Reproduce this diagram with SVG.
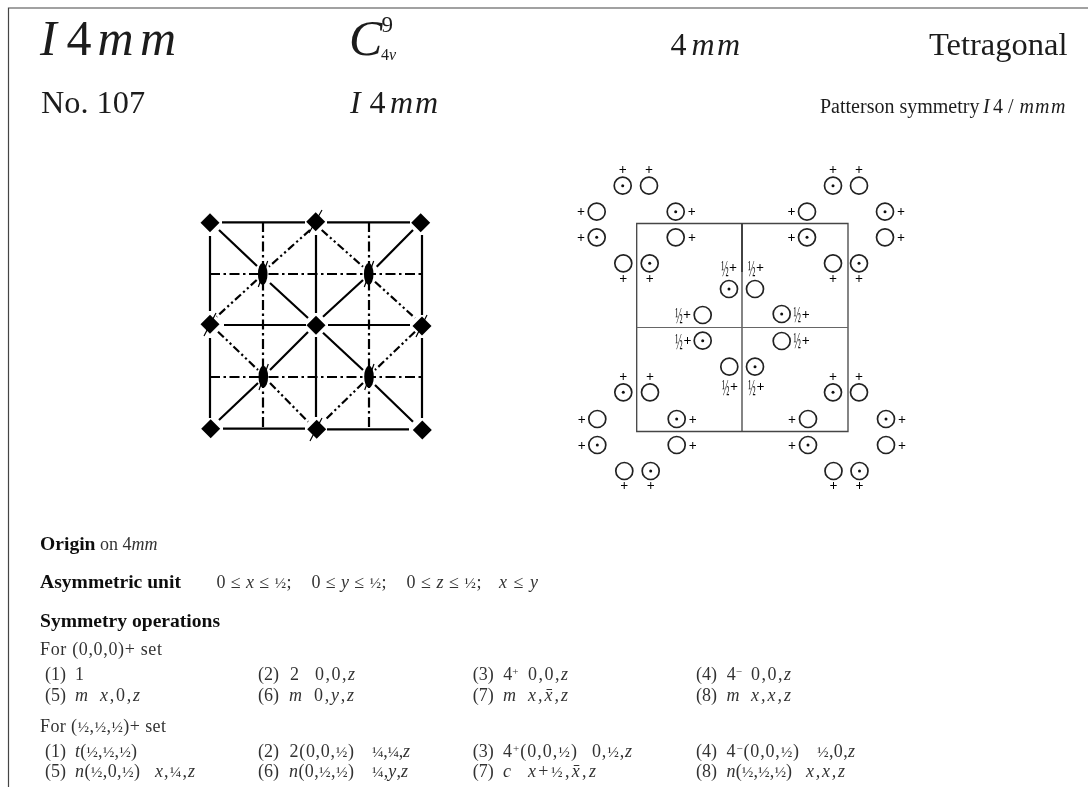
<svg xmlns="http://www.w3.org/2000/svg" width="1088" height="787" viewBox="0 0 1088 787">
<style>
text{font-family:"Liberation Serif","Times New Roman",serif;fill:#1c1c1c}
.r{font-size:18px;fill:#333}
.b{font-size:19.6px;font-weight:bold;fill:#111}
.i{font-style:italic}
.f{font-size:15.5px}
.s{font-size:11px}
.p{font-size:14px;text-anchor:middle;fill:#000;font-weight:bold}
.h{font-size:18px;text-anchor:middle;fill:#111}
.sol,.dd,.ddd{stroke:#000;stroke-width:2.2;fill:none}
.dd{stroke-dasharray:10 3.5 2.5 3.5}
.ddd{stroke-dasharray:8 3 2.2 3 2.2 3}
.tk{stroke:#000;stroke-width:1.2;fill:none}
.c{fill:none;stroke:#222;stroke-width:1.7}
.bx{fill:none;stroke:#444;stroke-width:1.3}
</style>
<defs>
<filter id="soft" x="0" y="0" width="100%" height="100%"><feGaussianBlur stdDeviation="0.4"/></filter>
<path id="dm" d="M0-9.5L9.5 0 0 9.5-9.5 0Z" fill="#000"/>
<circle id="o" r="8.5" class="c"/>
<g id="d"><circle r="8.5" class="c"/><circle r="1.5" fill="#111"/></g>
</defs>
<g filter="url(#soft)">
<rect width="1088" height="787" fill="#fff"/>
<path id="frame" d="M8.5 787V8H1088" fill="none" stroke="#444" stroke-width="1.2"/>

<g id="header">
<text y="55" font-size="50"><tspan class="i" x="40">I</tspan><tspan x="66.5">4</tspan><tspan class="i" x="97.5">m</tspan><tspan class="i" x="140">m</tspan></text>
<text x="349" y="55" font-size="50" class="i">C</text>
<text x="381.5" y="32" font-size="23">9</text>
<text x="381" y="60" font-size="16">4<tspan class="i">v</tspan></text>
<text y="55" font-size="32"><tspan x="670.5">4</tspan><tspan class="i" x="691.5">m</tspan><tspan class="i" x="717">m</tspan></text>
<text x="929" y="55" font-size="32.5">Tetragonal</text>
<text x="41" y="113" font-size="32.3">No. 107</text>
<text y="113" font-size="32"><tspan class="i" x="350">I</tspan><tspan x="369.5">4</tspan><tspan class="i" x="390">m</tspan><tspan class="i" x="415">m</tspan></text>
<text y="113" font-size="20"><tspan x="820">Patterson symmetry</tspan><tspan class="i" x="983">I</tspan><tspan x="993">4</tspan><tspan x="1008">/</tspan><tspan class="i" x="1019.5">m</tspan><tspan class="i" x="1035">m</tspan><tspan class="i" x="1051">m</tspan></text>
</g>

<g id="connectors-left">
<path class="sol" d="M222 222.3H305M327 222.3H410M210 236V311M210 338V418M422 235V315M422 338V418M316 235V313M316 337V417M224 325H306M328 325H410M223 428.7H305M327 429.3H409"/>
<path class="dd" d="M263 222V429M369 222V429M210 274H422M210 377H422"/>
<path class="sol" d="M219 230L257 266M270 283L308 318M413 230L376.7 266.7M363 280L323 316.7M308 332L270 370M258 383L219 420M323 332.7L363 370M375 385L413 421.7"/>
<path class="ddd" d="M310 230L269 266.7M256.7 280L216.7 316.7M321.7 230L363 266.7M375 281.7L415 318M218 331.7L258 370M270 383L308 421.7M415 331.7L375 370M363 383L325 420"/>
<path class="tk" d="M322 210L309 233M427 315L416 337M216 313L204 336M322 418L310 441"/>
<path class="tk" d="M267.7 261L258.3 287M373.7 261L364.3 287M268.3 364L259 390M374 364L364.7 390"/>
</g>
<g id="nodes-left">
<use id="n1" href="#dm" x="210" y="222.7"/>
<use id="n2" href="#dm" x="315.7" y="221.7"/>
<use id="n3" href="#dm" x="420.7" y="222.7"/>
<use id="n4" href="#dm" x="210" y="324.3"/>
<use id="n5" href="#dm" x="316" y="325.3"/>
<use id="n6" href="#dm" x="422" y="326"/>
<use id="n7" href="#dm" x="210.7" y="428.7"/>
<use id="n8" href="#dm" x="316.7" y="429.3"/>
<use id="n9" href="#dm" x="422.3" y="430"/>
<ellipse id="e1" cx="262.7" cy="274" rx="4.8" ry="11" fill="#000"/>
<ellipse id="e2" cx="368.7" cy="274" rx="4.8" ry="11" fill="#000"/>
<ellipse id="e3" cx="263.3" cy="376.7" rx="4.8" ry="11" fill="#000"/>
<ellipse id="e4" cx="369" cy="376.7" rx="4.8" ry="11" fill="#000"/>
</g>

<g id="cell-right">
<path class="bx" d="M636.7 223.5H848V431.5H636.7ZM742 223.5V431.5"/>
<path d="M636.7 327.5H848" stroke="#666" stroke-width="1" fill="none"/>
<path d="M742 223.5V272" stroke="#333" stroke-width="1.6" fill="none"/>
</g>
<g id="circles-right">
<use href="#d" x="622.7" y="185.7"/><use href="#o" x="649" y="185.7"/>
<use href="#o" x="596.7" y="211.7"/><use href="#d" x="675.7" y="211.7"/>
<use href="#d" x="596.7" y="237.3"/><use href="#o" x="675.7" y="237.3"/>
<use href="#o" x="623.3" y="263.3"/><use href="#d" x="649.7" y="263.3"/>
<use href="#d" x="833" y="185.7"/><use href="#o" x="859" y="185.7"/>
<use href="#o" x="807" y="211.7"/><use href="#d" x="885" y="211.7"/>
<use href="#d" x="807" y="237.3"/><use href="#o" x="885" y="237.3"/>
<use href="#o" x="833" y="263.3"/><use href="#d" x="859" y="263.3"/>
<use href="#d" x="729" y="289"/><use href="#o" x="755" y="289"/>
<use href="#o" x="702.7" y="315"/><use href="#d" x="781.7" y="314"/>
<use href="#d" x="702.7" y="340.7"/><use href="#o" x="781.7" y="341"/>
<use href="#o" x="729.3" y="366.7"/><use href="#d" x="755" y="366.7"/>
<use href="#d" x="623.3" y="392.3"/><use href="#o" x="650" y="392.3"/>
<use href="#o" x="597.3" y="419"/><use href="#d" x="676.7" y="419"/>
<use href="#d" x="597.3" y="445"/><use href="#o" x="676.7" y="445"/>
<use href="#o" x="624.3" y="471"/><use href="#d" x="650.7" y="471"/>
<use href="#d" x="833" y="392.3"/><use href="#o" x="859" y="392.3"/>
<use href="#o" x="808" y="419"/><use href="#d" x="886" y="419"/>
<use href="#d" x="808" y="445"/><use href="#o" x="886" y="445"/>
<use href="#o" x="833.5" y="471"/><use href="#d" x="859.5" y="471"/>
</g>
<g id="plus-right">
<text class="p" x="622.7" y="174">+</text><text class="p" x="649" y="174">+</text>
<text class="p" x="581" y="216">+</text><text class="p" x="691.7" y="216">+</text>
<text class="p" x="581" y="241.5">+</text><text class="p" x="692" y="241.5">+</text>
<text class="p" x="623.3" y="282.5">+</text><text class="p" x="649.7" y="282.5">+</text>
<text class="p" x="833" y="174">+</text><text class="p" x="859" y="174">+</text>
<text class="p" x="791.5" y="216">+</text><text class="p" x="901" y="216">+</text>
<text class="p" x="791.5" y="241.5">+</text><text class="p" x="901" y="241.5">+</text>
<text class="p" x="833" y="282.5">+</text><text class="p" x="859" y="282.5">+</text>
<text class="p" x="623.3" y="381">+</text><text class="p" x="650" y="381">+</text>
<text class="p" x="581.7" y="423.5">+</text><text class="p" x="692.7" y="423.5">+</text>
<text class="p" x="581.7" y="449.5">+</text><text class="p" x="692.7" y="449.5">+</text>
<text class="p" x="624.3" y="490">+</text><text class="p" x="650.7" y="490">+</text>
<text class="p" x="833" y="381">+</text><text class="p" x="859" y="381">+</text>
<text class="p" x="792" y="423.5">+</text><text class="p" x="902" y="423.5">+</text>
<text class="p" x="792" y="449.5">+</text><text class="p" x="902" y="449.5">+</text>
<text class="p" x="833.5" y="490">+</text><text class="p" x="859.5" y="490">+</text>
<text class="p" x="733" y="271.5">+</text><text class="p" x="760" y="271.5">+</text>
<text class="p" x="687" y="318.5">+</text><text class="p" x="805.7" y="318.5">+</text>
<text class="p" x="687.5" y="344.5">+</text><text class="p" x="805.7" y="344.5">+</text>
<text class="p" x="734" y="391">+</text><text class="p" x="760.5" y="391">+</text>
</g>
<g id="halves-right">
<text class="h" transform="translate(725 276) scale(.55 1.3)">½</text>
<text class="h" transform="translate(751.7 276) scale(.55 1.3)">½</text>
<text class="h" transform="translate(679 323) scale(.55 1.3)">½</text>
<text class="h" transform="translate(797.3 322) scale(.55 1.3)">½</text>
<text class="h" transform="translate(679 348.5) scale(.55 1.3)">½</text>
<text class="h" transform="translate(797.3 348) scale(.55 1.3)">½</text>
<text class="h" transform="translate(725.7 395) scale(.55 1.3)">½</text>
<text class="h" transform="translate(752 395) scale(.55 1.3)">½</text>
</g>

<g id="text-body">
<text class="b" x="40" y="550">Origin</text>
<text class="r" x="100" y="550">on 4<tspan class="i">mm</tspan></text>
<text class="b" x="40" y="588">Asymmetric unit</text>
<text class="r" x="216.5" y="588" textLength="75">0 ≤ <tspan class="i">x</tspan> ≤ <tspan class="f">½</tspan>;</text>
<text class="r" x="311.5" y="588" textLength="75">0 ≤ <tspan class="i">y</tspan> ≤ <tspan class="f">½</tspan>;</text>
<text class="r" x="406.5" y="588" textLength="75">0 ≤ <tspan class="i">z</tspan> ≤ <tspan class="f">½</tspan>;</text>
<text class="r" x="499" y="588" textLength="39"><tspan class="i">x</tspan> ≤ <tspan class="i">y</tspan></text>
<text class="b" x="40" y="627">Symmetry operations</text>
<text class="r" x="40" y="655" textLength="122">For (0,0,0)+ set</text>

<text class="r" x="45" y="680">(1)</text><text class="r" x="75" y="680">1</text>
<text class="r" x="258" y="680">(2)</text><text class="r" x="290" y="680">2</text><text class="r" x="315" y="680" textLength="40">0,0,<tspan class="i">z</tspan></text>
<text class="r" x="472.7" y="680">(3)</text><text class="r" x="503.3" y="680">4<tspan class="s" dy="-5">+</tspan></text><text class="r" x="528" y="680" textLength="40">0,0,<tspan class="i">z</tspan></text>
<text class="r" x="696" y="680">(4)</text><text class="r" x="726.7" y="680">4<tspan class="s" dy="-5">−</tspan></text><text class="r" x="751" y="680" textLength="40">0,0,<tspan class="i">z</tspan></text>

<text class="r" x="45" y="700.5">(5)</text><text class="r i" x="75" y="700.5">m</text><text class="r" x="100" y="700.5" textLength="40"><tspan class="i">x</tspan>,0,<tspan class="i">z</tspan></text>
<text class="r" x="258" y="700.5">(6)</text><text class="r i" x="289" y="700.5">m</text><text class="r" x="314" y="700.5" textLength="40">0,<tspan class="i">y</tspan>,<tspan class="i">z</tspan></text>
<text class="r" x="472.7" y="700.5">(7)</text><text class="r i" x="503" y="700.5">m</text><text class="r i" x="528" y="700.5" textLength="40">x,x̄,z</text>
<text class="r" x="696" y="700.5">(8)</text><text class="r i" x="726.6" y="700.5">m</text><text class="r i" x="751" y="700.5" textLength="40">x,x,z</text>

<text class="r" x="40" y="731.7" textLength="126">For (<tspan class="f">½</tspan>,<tspan class="f">½</tspan>,<tspan class="f">½</tspan>)+ set</text>

<text class="r" x="45" y="756.5">(1)</text><text class="r" x="75" y="756.5" textLength="62"><tspan class="i">t</tspan>(<tspan class="f">½</tspan>,<tspan class="f">½</tspan>,<tspan class="f">½</tspan>)</text>
<text class="r" x="258" y="756.5">(2)</text><text class="r" x="289.5" y="756.5" textLength="64.5">2(0,0,<tspan class="f">½</tspan>)</text><text class="r" x="372" y="756.5" textLength="38"><tspan class="f">¼</tspan>,<tspan class="f">¼</tspan>,<tspan class="i">z</tspan></text>
<text class="r" x="472.7" y="756.5">(3)</text><text class="r" x="503" y="756.5" textLength="74">4<tspan class="s" dy="-5">+</tspan><tspan dy="5">(0,0,</tspan><tspan class="f">½</tspan>)</text><text class="r" x="592" y="756.5" textLength="40">0,<tspan class="f">½</tspan>,<tspan class="i">z</tspan></text>
<text class="r" x="696" y="756.5">(4)</text><text class="r" x="726.6" y="756.5" textLength="72.5">4<tspan class="s" dy="-5">−</tspan><tspan dy="5">(0,0,</tspan><tspan class="f">½</tspan>)</text><text class="r" x="817" y="756.5" textLength="38"><tspan class="f">½</tspan>,0,<tspan class="i">z</tspan></text>

<text class="r" x="45" y="776.5">(5)</text><text class="r" x="75" y="776.5" textLength="65"><tspan class="i">n</tspan>(<tspan class="f">½</tspan>,0,<tspan class="f">½</tspan>)</text><text class="r" x="155" y="776.5" textLength="40"><tspan class="i">x</tspan>,<tspan class="f">¼</tspan>,<tspan class="i">z</tspan></text>
<text class="r" x="258" y="776.5">(6)</text><text class="r" x="289" y="776.5" textLength="65"><tspan class="i">n</tspan>(0,<tspan class="f">½</tspan>,<tspan class="f">½</tspan>)</text><text class="r" x="372" y="776.5" textLength="36"><tspan class="f">¼</tspan>,<tspan class="i">y</tspan>,<tspan class="i">z</tspan></text>
<text class="r" x="472.7" y="776.5">(7)</text><text class="r i" x="503" y="776.5">c</text><text class="r" x="528" y="776.5" textLength="68"><tspan class="i">x</tspan>+<tspan class="f">½</tspan>,<tspan class="i">x̄</tspan>,<tspan class="i">z</tspan></text>
<text class="r" x="696" y="776.5">(8)</text><text class="r" x="726.6" y="776.5" textLength="65.5"><tspan class="i">n</tspan>(<tspan class="f">½</tspan>,<tspan class="f">½</tspan>,<tspan class="f">½</tspan>)</text><text class="r i" x="806" y="776.5" textLength="39">x,x,z</text>
</g>
</g>
</svg>
